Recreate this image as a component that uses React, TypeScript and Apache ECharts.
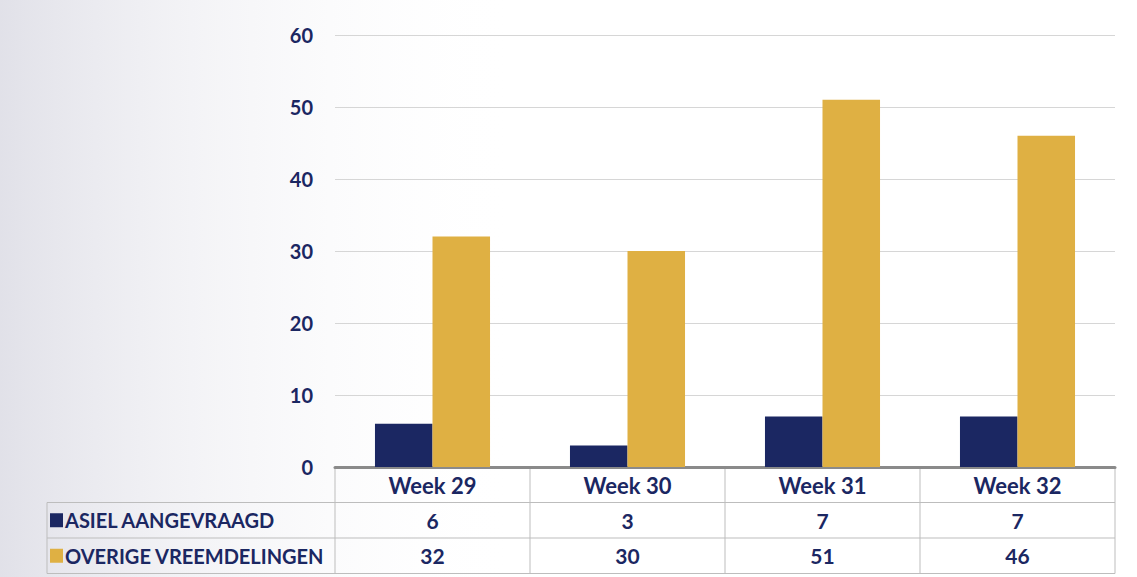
import React, { useEffect, useRef } from "react";
import * as echarts from "echarts";

const categories = ["Week 29", "Week 30", "Week 31", "Week 32"];
const seriesNames = ["ASIEL AANGEVRAAGD", "OVERIGE VREEMDELINGEN"];
const asiel = [6, 3, 7, 7];
const overige = [32, 30, 51, 46];
const seriesColors = ["#1b2762", "#dfb043"];
const yTicks = [0, 10, 20, 30, 40, 50, 60];

const NAVY = "#1b2762";
const FONT = "Lato, 'Open Sans', sans-serif";

export default function App() {
  const ref = useRef<HTMLDivElement>(null);
  useEffect(() => {
    if (!ref.current) return;
    const chart = echarts.init(ref.current, null, { renderer: "svg" });
    const values = [asiel, overige];
    const option: any = {
      animation: false,
      backgroundColor: "#ffffff",
      grid: { left: 335, right: 22, top: 35, bottom: 110 },
      xAxis: {
        type: "category",
        data: categories,
        axisLine: { lineStyle: { color: "#8a8a8a", width: 3 } },
        axisTick: { show: false },
        axisLabel: {
          color: NAVY,
          fontFamily: FONT,
          fontWeight: "bold",
          fontSize: 22,
          margin: 7,
        },
      },
      yAxis: {
        type: "value",
        min: yTicks[0],
        max: yTicks[yTicks.length - 1],
        interval: 10,
        axisLine: { show: false },
        axisTick: { show: false },
        axisLabel: {
          color: NAVY,
          fontFamily: FONT,
          fontWeight: "bold",
          fontSize: 20,
          margin: 22,
        },
        splitLine: { lineStyle: { color: "#d6d6d6", width: 1 } },
      },
      series: seriesNames.map((name, i) => ({
        name,
        type: "bar",
        data: values[i],
        barGap: "0%",
        barCategoryGap: "41%",
        itemStyle: { color: seriesColors[i] },
      })),
    };
    chart.setOption(option);

    // Build data table from the chart's own scale
    const x0 = 335;
    const yZero = chart.convertToPixel({ yAxisIndex: 0 } as any, 0) as number;
    const gridRight = 1137 - 22;
    const rowH = 35.5;
    const tableLeft = 47;
    const lineColor = "#bdbdbd";
    const catW = (gridRight - x0) / categories.length;
    const elements: any[] = [];
    elements.push({
      type: "rect",
      z: -10,
      silent: true,
      shape: { x: 0, y: 0, width: 520, height: 577 },
      style: {
        fill: new echarts.graphic.LinearGradient(0, 0, 1, 0, [
          { offset: 0, color: "rgba(215,215,225,0.75)" },
          { offset: 1, color: "rgba(255,255,255,0)" },
        ]),
      },
    });
    const row1 = yZero + rowH;
    const row2 = row1 + rowH;
    const row3 = row2 + rowH;
    [row1, row2, row3].forEach((y) => {
      elements.push({
        type: "line",
        shape: { x1: tableLeft, y1: y, x2: gridRight, y2: y },
        style: { stroke: lineColor, lineWidth: 1 },
      });
    });
    for (let i = 0; i <= categories.length; i++) {
      const x = x0 + i * catW;
      elements.push({
        type: "line",
        shape: { x1: x, y1: yZero, x2: x, y2: row3 },
        style: { stroke: lineColor, lineWidth: 1 },
      });
    }
    elements.push({
      type: "line",
      shape: { x1: tableLeft, y1: row1, x2: tableLeft, y2: row3 },
      style: { stroke: lineColor, lineWidth: 1 },
    });
    seriesNames.forEach((name, si) => {
      const yc = row1 + rowH * si + rowH / 2;
      elements.push({
        type: "rect",
        shape: { x: 50, y: yc - 7, width: 13, height: 14 },
        style: { fill: seriesColors[si] },
      });
      elements.push({
        type: "text",
        x: 65,
        y: yc,
        style: {
          text: name,
          fill: NAVY,
          font: `bold 20px ${FONT}`,
          verticalAlign: "middle",
          align: "left",
        },
      });
      values[si].forEach((v, ci) => {
        const px = chart.convertToPixel({ xAxisIndex: 0 } as any, categories[ci]) as number;
        elements.push({
          type: "text",
          x: px,
          y: yc,
          style: {
            text: String(v),
            fill: NAVY,
            font: `bold 21px ${FONT}`,
            verticalAlign: "middle",
            align: "center",
          },
        });
      });
    });
    chart.setOption({ graphic: { elements } });
    return () => chart.dispose();
  }, []);
  return (
    <div
      ref={ref}
      style={{ position: "absolute", left: 0, top: 0, width: 1137, height: 577 }}
    />
  );
}
